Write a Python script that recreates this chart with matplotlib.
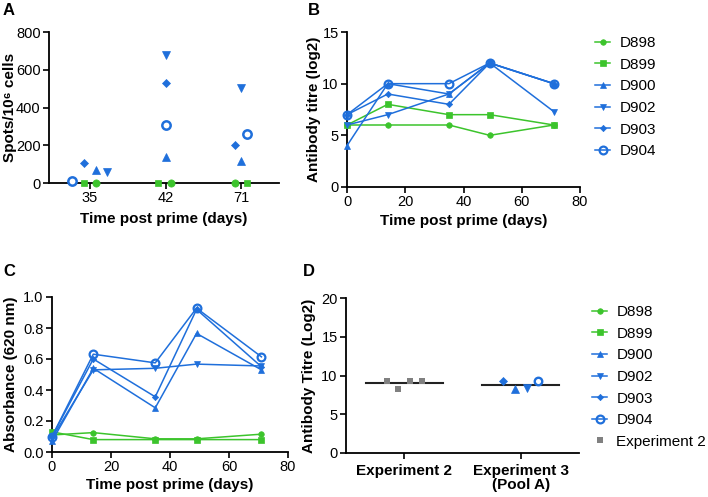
import matplotlib
matplotlib.use("Agg")
import matplotlib.pyplot as plt
import numpy as np
from matplotlib.lines import Line2D

plt.rcParams['font.family'] = ['Liberation Sans', 'DejaVu Sans']

GREEN = '#3cc42c'
BLUE = '#1f6fdb'
GREY = '#808080'

donors = ['D898', 'D899', 'D900', 'D902', 'D903', 'D904']
colors = [GREEN, GREEN, BLUE, BLUE, BLUE, BLUE]
markers = ['o', 's', '^', 'v', 'D', 'o']
filled = [True, True, True, True, True, False]

# Panel A: ELISpot
a_days = ['35', '42', '71']
a_values = {
    'D898': [0, 0, 0],
    'D899': [0, 0, 0],
    'D900': [70, 140, 117],
    'D902': [58, 677, 503],
    'D903': [108, 528, 203],
    'D904': [13, 309, 258],
}
a_offsets = {
    'D898': [0.08, 0.07, -0.08],
    'D899': [-0.08, -0.10, 0.08],
    'D900': [0.08, 0.0, 0.0],
    'D902': [0.23, 0.0, 0.0],
    'D903': [-0.08, 0.0, -0.08],
    'D904': [-0.23, 0.0, 0.08],
}

# Panel B: antibody titre (log2)
b_days = [0, 14, 35, 49, 71]
b_values = {
    'D898': [6, 6, 6, 5, 6],
    'D899': [6, 8, 7, 7, 6],
    'D900': [4, 10, 9, 12, 10],
    'D902': [6, 7, 9, 12, 7.3],
    'D903': [7, 9, 8, 12, 10],
    'D904': [7, 10, 10, 12, 10],
}

# Panel C: absorbance (620 nm)
c_days = [0, 14, 35, 49, 71]
c_values = {
    'D898': [0.11, 0.125, 0.085, 0.085, 0.115],
    'D899': [0.13, 0.08, 0.08, 0.08, 0.08],
    'D900': [0.07, 0.54, 0.285, 0.765, 0.53],
    'D902': [0.09, 0.53, 0.54, 0.567, 0.555],
    'D903': [0.10, 0.60, 0.356, 0.92, 0.55],
    'D904': [0.10, 0.631, 0.575, 0.928, 0.614],
}

# Panel D: titre per experiment
d_groups = ['Experiment 2', 'Experiment 3\n(Pool A)']
d_exp2 = [9.3, 8.3, 9.3, 9.3]
d_exp2_offsets = [-0.15, -0.05, 0.05, 0.15]
d_exp3_donors = ['D903', 'D900', 'D902', 'D904']
d_exp3 = [9.3, 8.2, 8.4, 9.3]
d_exp3_offsets = [-0.15, -0.05, 0.05, 0.15]

W, H = 708, 497
fig = plt.figure(figsize=(W / 100, H / 100), dpi=100)


def rect(l, r, t, b):
    return [l / W, 1 - b / H, (r - l) / W, (b - t) / H]


axA = fig.add_axes(rect(49, 279, 32, 183))
axB = fig.add_axes(rect(347, 580, 32, 187))
axC = fig.add_axes(rect(52, 288, 297, 452))
axD = fig.add_axes(rect(346, 579, 298, 453))

TICK_FS = 10.5
LABEL_FS = 11
LEG_FS = 11


def style(ax):
    for s in ['top', 'right']:
        ax.spines[s].set_visible(False)
    for s in ['left', 'bottom']:
        ax.spines[s].set_linewidth(1.3)
        ax.spines[s].set_color('black')
    ax.tick_params(direction='out', length=4, width=1.2, labelsize=TICK_FS, pad=2)


def msize(m, base):
    return {'o': base, 's': base * 0.95, '^': base * 1.1, 'v': base * 1.1, 'D': base * 0.8}[m]


# ---- Panel A
style(axA)
for i, d in enumerate(donors):
    xs = np.arange(len(a_days)) + np.array(a_offsets[d])
    m = markers[i]
    axA.plot(xs, a_values[d], linestyle='none', marker=m, ms=msize(m, 5.2) if filled[i] else 6.0,
             color=colors[i], mfc=colors[i] if filled[i] else 'white', mew=1.8 if not filled[i] else 0.5,
             clip_on=False, zorder=3)
axA.set_xlim(-0.54, 2.5)
axA.set_ylim(0, 800)
axA.set_yticks([0, 200, 400, 600, 800])
axA.set_xticks(range(len(a_days)))
axA.set_xticklabels(a_days)
axA.set_xlabel('Time post prime (days)', fontsize=LABEL_FS, fontweight='bold', labelpad=5)
axA.set_ylabel('Spots/10\u2076 cells', fontsize=LABEL_FS, fontweight='bold')
axA.yaxis.set_label_coords((17 - 49) / 230, 0.5)


def line_panel(ax, days, vals, base=4.0, omsz=5.6):
    style(ax)
    handles = []
    for i, d in enumerate(donors):
        m = markers[i]
        h, = ax.plot(days, vals[d], marker=m, ms=msize(m, base) if filled[i] else omsz,
                     color=colors[i], mfc=colors[i] if filled[i] else 'none',
                     mew=1.6 if not filled[i] else 0.5, lw=1.1, clip_on=False, label=d, zorder=3)
        handles.append(h)
    ax.set_xlim(0, 80)
    ax.set_xticks([0, 20, 40, 60, 80])
    ax.set_xlabel('Time post prime (days)', fontsize=LABEL_FS, fontweight='bold', labelpad=3)
    return handles


# ---- Panel B
hB = line_panel(axB, b_days, b_values)
axB.set_ylim(0, 15)
axB.set_yticks([0, 5, 10, 15])
axB.set_ylabel('Antibody titre (log2)', fontsize=LABEL_FS, fontweight='bold')
axB.yaxis.set_label_coords((321 - 347) / 233, 0.5)

# ---- Panel C
hC = line_panel(axC, c_days, c_values)
axC.set_ylim(0, 1.0)
axC.set_yticks([0, 0.2, 0.4, 0.6, 0.8, 1.0])
axC.set_yticklabels(['%.1f' % v for v in [0, 0.2, 0.4, 0.6, 0.8, 1.0]])
axC.set_ylabel('Absorbance (620 nm)', fontsize=LABEL_FS, fontweight='bold')
axC.yaxis.set_label_coords((18 - 52) / 236, 0.5)

# ---- Panel D
style(axD)
for j, v in enumerate(d_exp2):
    axD.plot(0 + d_exp2_offsets[j], v, marker='s', ms=4.8, color=GREY, mew=0, linestyle='none', zorder=3)
for j, d in enumerate(d_exp3_donors):
    i = donors.index(d)
    m = markers[i]
    axD.plot(1 + d_exp3_offsets[j], d_exp3[j], marker=m, ms=msize(m, 5.0) if filled[i] else 5.4,
             color=colors[i], mfc=colors[i] if filled[i] else 'white', mew=1.7 if not filled[i] else 0.5,
             linestyle='none', zorder=3)
for k, grp in enumerate([d_exp2, d_exp3]):
    mval = np.mean(grp)
    axD.plot([k - 0.33, k + 0.33], [mval, mval], color='#222222', lw=1.5, zorder=2)
axD.set_xlim(-0.5, 1.5)
axD.set_ylim(0, 20)
axD.set_yticks([0, 5, 10, 15, 20])
axD.set_xticks([0, 1])
axD.set_xticklabels(d_groups, fontweight='bold', fontsize=LABEL_FS, linespacing=1.0)
axD.tick_params(axis='x', pad=4)
axD.set_ylabel('Antibody Titre (Log2)', fontsize=LABEL_FS, fontweight='bold')
axD.yaxis.set_label_coords((316 - 346) / 233, 0.5)

# ---- Legends
leg_kw = dict(frameon=False, loc='upper left', fontsize=LEG_FS, handlelength=1.0,
              handletextpad=0.6, labelspacing=0.5, borderpad=0, borderaxespad=0)
fig.legend(handles=hB, labels=donors, bbox_to_anchor=(595 / W, 1 - 36 / H), **leg_kw)
exp2_handle = Line2D([], [], marker='s', ms=4.8, color=GREY, linestyle='none', mew=0)
fig.legend(handles=hC + [exp2_handle], labels=donors + ['Experiment 2'],
           bbox_to_anchor=(592 / W, 1 - 305 / H), **leg_kw)

# ---- Panel letters
for lab, x, y in [('A', 3, 3), ('B', 308, 3), ('C', 3, 264), ('D', 303, 264)]:
    fig.text(x / W, 1 - y / H, lab, fontsize=12, fontweight='bold', va='top', ha='left')

fig.savefig('out.png', dpi=100)
